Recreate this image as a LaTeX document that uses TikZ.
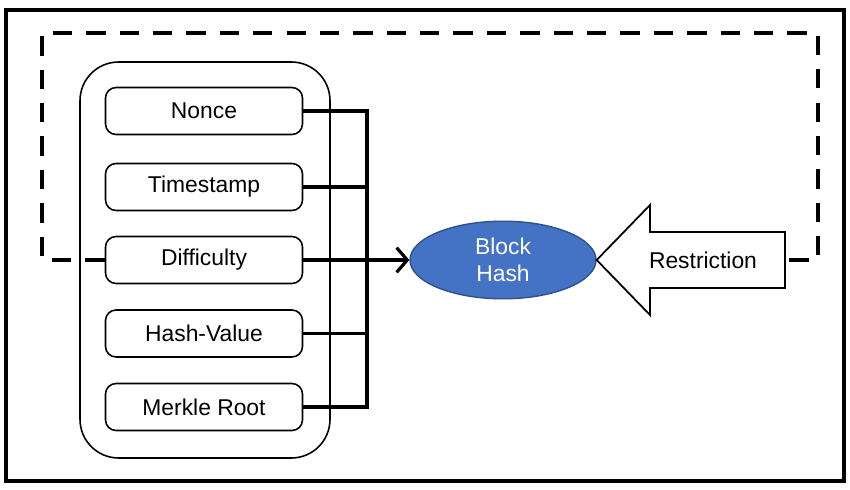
\documentclass[tikz,border=0pt]{standalone}
\usepackage{fontspec}
\setmainfont{Liberation Sans}
\usepackage{xcolor}
\usetikzlibrary{shapes.geometric,arrows.meta,positioning}
\definecolor{hashblue}{HTML}{4472C4}
\definecolor{hashedge}{HTML}{2F528F}

\begin{document}
\begin{tikzpicture}[
  field/.style={draw,rounded corners=6pt,line width=0.9pt,minimum width=3.94cm,
    minimum height=0.94cm,font=\fontsize{13}{15}\selectfont},
  bus/.style={line width=1.8pt},
  loopline/.style={line width=2.3pt,dash pattern=on 11pt off 8pt}]
  \useasboundingbox (0,0) rectangle (17,9.78);
  % outer frame
  \draw[line width=2.6pt] (0.12,0.16) rectangle (16.88,9.58);

  % header fields
  \node[draw,rounded corners=22pt,line width=0.9pt,minimum width=5cm,
    minimum height=7.92cm] (group) at (4.1,4.58) {};
  \node[field] (nonce) at (4.08,7.56) {Nonce};
  \node[field] (time) at (4.08,6.04) {Timestamp};
  \node[field] (diff) at (4.08,4.58) {Difficulty};
  \node[field] (hval) at (4.08,3.11) {Hash-Value};
  \node[field] (merkle) at (4.08,1.64) {Merkle Root};

  % block hash
  \node[ellipse,fill=hashblue,draw=hashedge,line width=0.8pt,minimum width=3.72cm,
    minimum height=1.36cm,text=white,align=center,font=\fontsize{13}{15}\selectfont]
    (hash) at (10.06,4.58) {Block\\Hash};

  % bus into the hash
  \coordinate (busx) at (7.34,4.58);
  \draw[bus] (nonce.east) -- (nonce.east -| busx) -- (merkle.east -| busx) -- (merkle.east);
  \foreach \f in {time,hval}
    \draw[bus] (\f.east) -- (\f.east -| busx);
  \draw[bus,-{Straight Barb[length=6pt,width=14pt]}] (diff.east) -- (hash.west);

  % restriction arrow
  \draw[line width=1pt] (hash.east) -- (13.0,5.68) -- (13.0,5.14) -- (15.7,5.14)
    -- (15.7,4.02) -- (13.0,4.02) -- (13.0,3.48) -- cycle;
  \node[font=\fontsize{13}{15}\selectfont] (restrict) at (14.06,4.58) {Restriction};
  \coordinate (tail) at (15.7,4.58);

  % dashed loop back to the fields
  \coordinate (loopL) at (0.84,9.12);
  \coordinate (loopR) at (16.36,9.12);
  \draw[loopline] (diff.west) -- (diff.west -| loopL) -- (loopL) -- (loopR)
    -- (loopR |- tail) -- (tail);
\end{tikzpicture}
\end{document}
